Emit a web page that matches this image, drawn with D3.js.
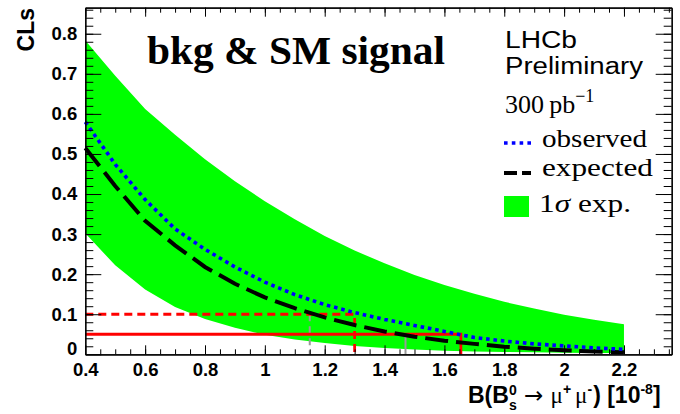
<!DOCTYPE html>
<html><head><meta charset="utf-8">
<script src="https://cdn.jsdelivr.net/npm/d3@7"></script>
<style>body{margin:0;background:#fff}svg{display:block}</style>
</head><body><svg id="c" width="680" height="414"></svg>
<script>
// ---- data ----
const xs       = [0.4,0.5,0.6,0.7,0.8,0.9,1.0,1.1,1.2,1.3,1.4,1.5,1.6,1.7,1.8,1.9,2.0,2.1,2.2];
const upper    = [0.783,0.695,0.612,0.548,0.487,0.432,0.382,0.337,0.295,0.259,0.227,0.198,0.173,0.151,0.131,0.114,0.099,0.086,0.075];
const lower    = [0.302,0.222,0.162,0.118,0.088,0.066,0.049,0.037,0.028,0.021,0.016,0.012,0.009,0.007,0.006,0.005,0.004,0.003,0.003];
const expected = [0.515,0.420,0.333,0.272,0.218,0.176,0.142,0.115,0.092,0.073,0.057,0.044,0.034,0.026,0.019,0.014,0.010,0.007,0.005];
const observed = [0.580,0.474,0.386,0.313,0.262,0.218,0.180,0.149,0.124,0.104,0.087,0.072,0.057,0.042,0.033,0.026,0.021,0.016,0.0125];
const clLevels = [0.1, 0.05];
const obsLimits = [1.3, 1.655];
const expLimits = [1.15, 1.47];
const xTicks = [0.4,0.6,0.8,1,1.2,1.4,1.6,1.8,2,2.2];
const yTicks = [0,0.1,0.2,0.3,0.4,0.5,0.6,0.7,0.8];
const xDomain = [0.4, 2.3595];
const yDomain = [0, 0.865];

// ---- layout ----
const L = 85.3, R = 671.7, T = 7.7, B = 354.3;
const svg = d3.select('#c');
const x = d3.scaleLinear(xDomain, [L, R]);
const y = d3.scaleLinear(yDomain, [B, T]);
const pts = a => xs.map((v,i)=>[v,a[i]]);

// band
svg.append('path')
  .datum(xs.map((v,i)=>({x:v,lo:lower[i],hi:upper[i]})))
  .attr('fill','#00ff00')
  .attr('d', d3.area().x(d=>x(d.x)).y0(d=>y(d.lo)).y1(d=>y(d.hi)));

const line = d3.line().x(d=>x(d[0])).y(d=>y(d[1]));

// gray expected-limit markers
svg.append('path').datum([[expLimits[0],clLevels[0]],[expLimits[0],0]])
  .attr('d',line).attr('fill','none').attr('stroke','#999').attr('stroke-width',2).attr('stroke-dasharray','7 5');
svg.append('path').datum([[expLimits[1],clLevels[1]],[expLimits[1],0]])
  .attr('d',line).attr('fill','none').attr('stroke','#999').attr('stroke-width',2);

// red observed-limit markers
svg.append('path').datum([[xs[0],clLevels[0]],[obsLimits[0],clLevels[0]],[obsLimits[0],0]])
  .attr('d',line).attr('fill','none').attr('stroke','#ff0000').attr('stroke-width',2.8).attr('stroke-dasharray','8 5');
svg.append('path').datum([[xs[0],clLevels[1]],[obsLimits[1],clLevels[1]],[obsLimits[1],0]])
  .attr('d',line).attr('fill','none').attr('stroke','#ff0000').attr('stroke-width',2.8);

// curves
svg.append('path').datum(pts(expected)).attr('d',line).attr('fill','none')
  .attr('stroke','#000').attr('stroke-width',4).attr('stroke-dasharray','23 8');
svg.append('path').datum(pts(observed)).attr('d',line).attr('fill','none')
  .attr('stroke','#0000ff').attr('stroke-width',3.6).attr('stroke-dasharray','3.6 3.8');

// ---- axes ----
const xMinor = d3.range(0.45, 2.36, 0.05);
const yMinor = d3.range(0.02, 0.865, 0.02);
function styleAxis(g){ g.selectAll('path.domain').attr('stroke','#000').attr('stroke-width',1.2);
  g.selectAll('line').attr('stroke','#000').attr('stroke-width',1); }
const lab = {'font-family':'Liberation Sans, Arial, sans-serif','font-weight':'bold','font-size':'18.5px','fill':'#000'};

svg.append('g').attr('transform',`translate(0,${B})`)
  .call(d3.axisBottom(x).tickValues(xMinor).tickSize(-5).tickSizeOuter(0).tickFormat('')).call(styleAxis);
const gx = svg.append('g').attr('transform',`translate(0,${B})`)
  .call(d3.axisBottom(x).tickValues(xTicks).tickSize(-9).tickSizeOuter(0).tickPadding(9).tickFormat(d=>String(d))).call(styleAxis);
gx.selectAll('text').each(function(){ const t=d3.select(this); for(const k in lab) t.style(k,lab[k]); });

svg.append('g').attr('transform',`translate(0,${T})`)
  .call(d3.axisTop(x).tickValues(xMinor).tickSize(-5).tickSizeOuter(0).tickFormat('')).call(styleAxis);
svg.append('g').attr('transform',`translate(0,${T})`)
  .call(d3.axisTop(x).tickValues(xTicks).tickSize(-9).tickSizeOuter(0).tickFormat('')).call(styleAxis);

svg.append('g').attr('transform',`translate(${L},0)`)
  .call(d3.axisLeft(y).tickValues(yMinor).tickSize(-8).tickSizeOuter(0).tickFormat('')).call(styleAxis);
const gy = svg.append('g').attr('transform',`translate(${L},0)`)
  .call(d3.axisLeft(y).tickValues(yTicks).tickSize(-16).tickSizeOuter(0).tickPadding(8).tickFormat(d=>String(d))).call(styleAxis);
gy.selectAll('text').each(function(d){ const t=d3.select(this); for(const k in lab) t.style(k,lab[k]); if(d===0) t.attr('dy','0em'); });

svg.append('g').attr('transform',`translate(${R},0)`)
  .call(d3.axisRight(y).tickValues(yMinor).tickSize(-8).tickSizeOuter(0).tickFormat('')).call(styleAxis);
svg.append('g').attr('transform',`translate(${R},0)`)
  .call(d3.axisRight(y).tickValues(yTicks).tickSize(-16).tickSizeOuter(0).tickFormat('')).call(styleAxis);

// axis titles
svg.append('text').attr('transform','translate(34,8) rotate(-90)').attr('text-anchor','end')
  .style('font-family','Liberation Sans, Arial, sans-serif').style('font-weight','bold').style('font-size','23px')
  .text('CLs');

const xt = svg.append('text').attr('x',468).attr('y',403)
  .style('font-family','Liberation Sans, Arial, sans-serif').style('font-weight','bold').style('font-size','23px');
xt.append('tspan').text('B(B');
xt.append('tspan').attr('dy',-8).style('font-size','14px').text('0');
xt.append('tspan').attr('dx',-7.8).attr('dy',15).style('font-size','14px').text('s');
xt.append('tspan').attr('dy',-7).style('font-weight','normal').style('font-family','DejaVu Sans, sans-serif').text(' \u2192 ');
xt.append('tspan').style('font-weight','normal').style('font-family','Liberation Serif, serif').text('\u03bc');
xt.append('tspan').attr('dy',-9).style('font-size','14px').text('+');
xt.append('tspan').attr('dx',4).attr('dy',9).style('font-weight','normal').style('font-family','Liberation Serif, serif').text('\u03bc');
xt.append('tspan').attr('dy',-9).style('font-size','14px').text('-');
xt.append('tspan').attr('dx',1).attr('dy',9).text(') [10');
xt.append('tspan').attr('dy',-9).style('font-size','14px').text('-8');
xt.append('tspan').attr('dy',9).text(']');

// title text
svg.append('text').attr('x',147).attr('y',64).attr('textLength',298).attr('lengthAdjust','spacingAndGlyphs')
  .style('font-family','Liberation Serif, serif').style('font-weight','bold').style('font-size','39px')
  .text('bkg & SM signal');

// legend
const sans = {'font-family':'Liberation Sans, Arial, sans-serif','font-size':'23px'};
function addText(tx,ty,str,st,len){ const t=svg.append('text').attr('x',tx).attr('y',ty).text(str);
  for(const k in st) t.style(k,st[k]); if(len) t.attr('textLength',len).attr('lengthAdjust','spacingAndGlyphs'); return t; }
addText(505,48,'LHCb',sans,72);
addText(505,74,'Preliminary',sans,138);
const serif = {'font-family':'Liberation Serif, serif','font-size':'26px'};
const lum = svg.append('text').attr('x',505).attr('y',113).style('font-family','Liberation Serif, serif').style('font-size','26px');
lum.append('tspan').text('300\u2009pb');
lum.append('tspan').attr('dy',-11).style('font-size','18px').text('\u22121');
addText(542,147,'observed',serif,105);
addText(542,176,'expected',serif,111);
const sg = svg.append('text').attr('x',539).attr('y',212).attr('textLength',92).attr('lengthAdjust','spacingAndGlyphs')
  .style('font-family','Liberation Serif, serif').style('font-size','26px');
sg.append('tspan').text('1');
sg.append('tspan').style('font-style','italic').text('\u03c3');
sg.append('tspan').text(' exp.');

const legX = d3.scaleLinear([0,1],[504,531]);
svg.append('line').attr('x1',legX(0)).attr('x2',legX(1)).attr('y1',143).attr('y2',143)
  .attr('stroke','#0000ff').attr('stroke-width',3.6).attr('stroke-dasharray','3.6 4.2');
svg.append('line').attr('x1',legX(0)).attr('x2',legX(1)).attr('y1',173).attr('y2',173)
  .attr('stroke','#000').attr('stroke-width',4).attr('stroke-dasharray','13 5');
svg.append('rect').attr('x',504).attr('y',196).attr('width',25).attr('height',21).attr('fill','#00ff00');
</script></body></html>
